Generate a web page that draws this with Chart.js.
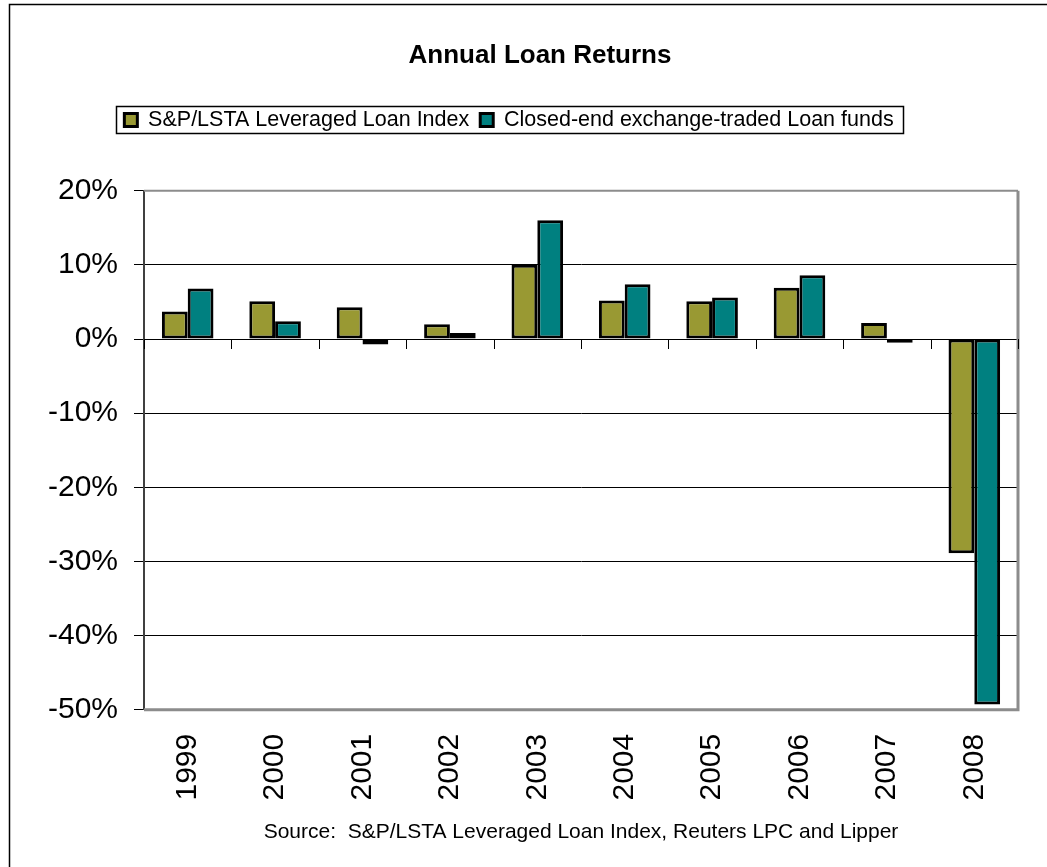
<!DOCTYPE html>
<html>
<head>
<meta charset="utf-8">
<title>Annual Loan Returns</title>
<script src="https://cdn.jsdelivr.net/npm/chart.js@4.4.1/dist/chart.umd.min.js"></script>
<style>
  html, body { margin: 0; padding: 0; background: #fff; }
  #wrap { width: 1047px; height: 867px; }
</style>
</head>
<body>
<div id="wrap"><canvas id="loanChart" width="1047" height="867"></canvas></div>
<script>
// Data
const years = ['1999', '2000', '2001', '2002', '2003', '2004', '2005', '2006', '2007', '2008'];
const loanIndex = [3.7, 5.1, 4.3, 2.0, 10.0, 5.2, 5.1, 6.9, 2.15, -28.9];
const loanFunds = [6.8, 2.4, -0.75, 0.8, 16.0, 7.4, 5.6, 8.6, -0.5, -49.3];
const yTicks = [20, 10, 0, -10, -20, -30, -40, -50];

const seriesNames = ['S&P/LSTA Leveraged Loan Index', 'Closed-end exchange-traded Loan funds'];
const titleText = 'Annual Loan Returns';
const sourceText = 'Source:  S&P/LSTA Leveraged Loan Index, Reuters LPC and Lipper';

const FONT = "'Liberation Sans', Arial, Helvetica, sans-serif";
const OLIVE = '#999933';
const TEAL = '#008080';

// Frame, plot border, legend box and category ticks on the zero line
const framePlugin = {
    id: 'frame',
    afterLayout(chart) {
        chart.boxes.forEach(box => {
            if (!box.options) return;
            if (box.options.text === titleText) {
                box.left += 31;
                box.right += 31;
            }
            if (box.options.text === sourceText) {
                box.left = chart.chartArea.left;
                box.right = chart.chartArea.right;
            }
        });
    },
    beforeDraw(chart) {
        const ctx = chart.ctx;
        ctx.save();
        ctx.fillStyle = '#fff';
        ctx.fillRect(0, 0, chart.width, chart.height);
        ctx.restore();
    },
    afterDraw(chart) {
        const ctx = chart.ctx;
        const area = chart.chartArea;
        const x = chart.scales.x;
        const y = chart.scales.y;
        ctx.save();

        // outer chart border (runs off the right/bottom of the picture)
        ctx.strokeStyle = '#000';
        ctx.lineWidth = 1.5;
        ctx.strokeRect(9.5, 4.5, chart.width + 20, chart.height + 20);

        // plot area border: top, right, bottom in grey
        ctx.strokeStyle = '#8c8c8c';
        ctx.lineWidth = 2;
        ctx.beginPath();
        ctx.moveTo(area.left, area.top);
        ctx.lineTo(area.right, area.top);
        ctx.stroke();
        ctx.lineWidth = 3;
        ctx.beginPath();
        ctx.moveTo(area.right, area.top);
        ctx.lineTo(area.right, area.bottom);
        ctx.lineTo(area.left, area.bottom);
        ctx.stroke();

        // tick marks between categories, hanging from the 0% line
        const zeroY = y.getPixelForValue(0);
        ctx.strokeStyle = '#000';
        ctx.lineWidth = 1;
        ctx.beginPath();
        for (let i = 0; i <= years.length; i++) {
            const px = Math.round(x.getPixelForValue(i - 0.5)) + 0.5;
            ctx.moveTo(px, zeroY);
            ctx.lineTo(px, zeroY + 10);
        }
        ctx.stroke();

        // legend box
        const boxes = chart.legend.legendHitBoxes;
        if (boxes && boxes.length) {
            const l = Math.min(...boxes.map(b => b.left)) - 8;
            const r = Math.max(...boxes.map(b => b.left + b.width)) + 10;
            const t = Math.min(...boxes.map(b => b.top)) - 3;
            const b2 = Math.max(...boxes.map(b => b.top + b.height)) + 3;
            ctx.lineWidth = 1.5;
            ctx.strokeStyle = '#000';
            ctx.strokeRect(Math.round(l) + 0.5, Math.round(t) + 0.5, Math.round(r - l), Math.round(b2 - t));
        }
        ctx.restore();
    }
};

const ctx = document.getElementById('loanChart').getContext('2d');

const loanChart = new Chart(ctx, {
    type: 'bar',
    data: {
        labels: years,
        datasets: [
            {
                label: seriesNames[0],
                data: loanIndex,
                backgroundColor: OLIVE,
                borderColor: '#000',
                borderWidth: 3,
                borderSkipped: false,
                categoryPercentage: 0.59,
                barPercentage: 1.0
            },
            {
                label: seriesNames[1],
                data: loanFunds,
                backgroundColor: TEAL,
                borderColor: '#000',
                borderWidth: 3,
                borderSkipped: false,
                categoryPercentage: 0.59,
                barPercentage: 1.0
            }
        ]
    },
    options: {
        responsive: false,
        animation: false,
        devicePixelRatio: 1,
        layout: {
            padding: { top: 0, left: 0, right: 29, bottom: 22 }
        },
        scales: {
            x: {
                position: 'bottom',
                afterFit(scale) { scale.height = 91; },
                grid: { display: false, drawTicks: false, tickLength: 0 },
                border: { display: false },
                ticks: {
                    autoSkip: false,
                    minRotation: 90,
                    maxRotation: 90,
                    padding: 24,
                    color: '#000',
                    font: { family: FONT, size: 30 }
                }
            },
            // empty top axis only keeps room between legend and plot
            xTop: {
                type: 'category',
                position: 'top',
                grid: { display: false, drawTicks: false },
                border: { display: false },
                ticks: { display: false },
                afterFit(scale) { scale.height = 50; }
            },
            y: {
                min: Math.min(...yTicks),
                max: Math.max(...yTicks),
                afterFit(scale) { scale.width = 144; },
                ticks: {
                    stepSize: 10,
                    padding: 16,
                    color: '#000',
                    font: { family: FONT, size: 30 },
                    callback: v => v + '%'
                },
                grid: {
                    color: c => (c.tick && (c.tick.value === yTicks[0] || c.tick.value === yTicks[yTicks.length - 1])) ? 'rgba(0,0,0,0)' : '#000',
                    tickColor: '#000',
                    tickLength: 10,
                    lineWidth: 1
                },
                border: { display: true, color: '#404040', width: 2 }
            }
        },
        plugins: {
            title: {
                display: true,
                text: titleText,
                color: '#000',
                font: { family: FONT, size: 26, weight: 'bold' },
                padding: { top: 40, bottom: 27 }
            },
            subtitle: {
                display: true,
                position: 'bottom',
                text: sourceText,
                color: '#000',
                font: { family: FONT, size: 21, weight: 'normal' },
                padding: { top: 19, bottom: 0 }
            },
            legend: {
                display: true,
                position: 'top',
                labels: {
                    color: '#000',
                    font: { family: FONT, size: 21.5 },
                    boxWidth: 13,
                    boxHeight: 13,
                    padding: 11
                }
            },
            tooltip: { enabled: false }
        }
    },
    plugins: [framePlugin]
});
</script>
</body>
</html>
